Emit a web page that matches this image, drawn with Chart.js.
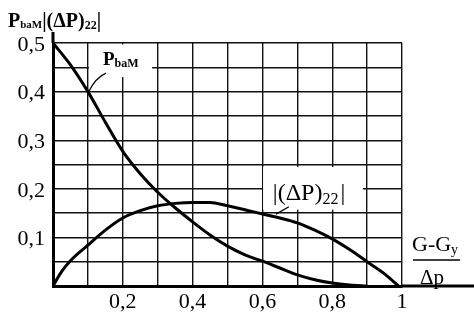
<!DOCTYPE html>
<html><head><meta charset="utf-8">
<script src="https://cdn.jsdelivr.net/npm/chart.js@4/dist/chart.umd.min.js"></script>
<style>html,body{margin:0;padding:0;background:#fff}#wrap{width:474px;height:314px}</style>
</head><body><div id="wrap"><canvas id="c" width="474" height="314"></canvas></div>
<script>
// ---- data ----
const xPbam = [0, 0.05, 0.1, 0.15, 0.2, 0.25, 0.3, 0.35, 0.4, 0.45, 0.5, 0.55, 0.6, 0.65, 0.7, 0.75, 0.8, 0.85, 0.9];
const yPbam = [0.5, 0.455, 0.40, 0.337, 0.277, 0.231, 0.193, 0.161, 0.132, 0.105, 0.082, 0.064, 0.051, 0.037, 0.023, 0.013, 0.006, 0.002, 0];
const xDp = [0, 0.025, 0.05, 0.1, 0.15, 0.2, 0.25, 0.3, 0.35, 0.4, 0.45, 0.5, 0.55, 0.6, 0.65, 0.7, 0.75, 0.8, 0.85, 0.9, 0.95, 0.99];
const yDp = [0, 0.03, 0.052, 0.084, 0.115, 0.14, 0.155, 0.165, 0.17, 0.172, 0.172, 0.165, 0.157, 0.148, 0.14, 0.13, 0.115, 0.097, 0.075, 0.05, 0.025, 0];
const xTickValues = [0.2, 0.4, 0.6, 0.8, 1];
const xTickLabels = ['0,2', '0,4', '0,6', '0,8', '1'];
const yTickValues = [0.1, 0.2, 0.3, 0.4, 0.5];
const yTickLabels = ['0,1', '0,2', '0,3', '0,4', '0,5'];

const SERIF = '"Liberation Serif", "DejaVu Serif", serif';
function pickLabel(vals, labels, v) {
  for (let i = 0; i < vals.length; i++) if (Math.abs(vals[i] - v) < 1e-6) return labels[i];
  return '';
}
function pts(xs, ys) { return xs.map((x, i) => ({ x: x, y: ys[i] })); }

function drawRich(ctx, x, y, segs) {
  ctx.textBaseline = 'alphabetic';
  ctx.textAlign = 'left';
  for (const s of segs) {
    ctx.font = s.font;
    ctx.fillText(s.t, x, y + (s.dy || 0));
    x += ctx.measureText(s.t).width + (s.gap || 0);
  }
  return x;
}

const decor = {
  id: 'decor',
  beforeDatasetsDraw(chart) {
    const ctx = chart.ctx, xs = chart.scales.x, ys = chart.scales.y;
    ctx.save();
    ctx.fillStyle = '#fff';
    let x0 = xs.getPixelForValue(0.103), x1 = xs.getPixelForValue(0.284);
    let y0 = ys.getPixelForValue(0.497), y1 = ys.getPixelForValue(0.43);
    ctx.fillRect(x0, y0, x1 - x0, y1 - y0);
    x0 = xs.getPixelForValue(0.602); x1 = xs.getPixelForValue(0.888);
    y0 = ys.getPixelForValue(0.245); y1 = ys.getPixelForValue(0.157);
    ctx.fillRect(x0, y0, x1 - x0, y1 - y0);
    ctx.restore();
  },
  afterDraw(chart) {
    const ctx = chart.ctx, xs = chart.scales.x, ys = chart.scales.y, a = chart.chartArea;
    ctx.save();
    ctx.strokeStyle = '#000';
    ctx.fillStyle = '#000';
    ctx.lineWidth = 3;
    ctx.beginPath();
    ctx.moveTo(a.left, a.top - 11); ctx.lineTo(a.left, a.top);
    ctx.moveTo(a.right, a.bottom); ctx.lineTo(chart.width, a.bottom);
    ctx.stroke();

    drawRich(ctx, 8, 27, [
      { t: 'P', font: 'bold 20px ' + SERIF },
      { t: 'baM', font: 'bold 11px ' + SERIF, dy: 1 },
      { t: '|(ΔP)', font: 'bold 20px ' + SERIF },
      { t: '22', font: 'bold 12px ' + SERIF, dy: 2 },
      { t: '|', font: 'bold 20px ' + SERIF }
    ]);

    drawRich(ctx, xs.getPixelForValue(0.143), ys.getPixelForValue(0.455), [
      { t: 'P', font: 'bold 19px ' + SERIF },
      { t: 'baM', font: 'bold 12px ' + SERIF, dy: 2 }
    ]);
    ctx.lineWidth = 1.3;
    ctx.beginPath();
    ctx.moveTo(xs.getPixelForValue(0.152), ys.getPixelForValue(0.438));
    ctx.quadraticCurveTo(xs.getPixelForValue(0.123), ys.getPixelForValue(0.43), xs.getPixelForValue(0.1), ys.getPixelForValue(0.397));
    ctx.stroke();

    drawRich(ctx, xs.getPixelForValue(0.63), ys.getPixelForValue(0.177), [
      { t: '|(ΔP)', font: '24px ' + SERIF },
      { t: '22', font: '16px ' + SERIF, dy: 4, gap: 2 },
      { t: '|', font: '24px ' + SERIF }
    ]);
    ctx.beginPath();
    ctx.moveTo(xs.getPixelForValue(0.676), ys.getPixelForValue(0.163));
    ctx.lineTo(xs.getPixelForValue(0.639), ys.getPixelForValue(0.148));
    ctx.stroke();

    const fx = a.right + 10;
    const end = drawRich(ctx, fx, a.bottom - 35, [
      { t: 'G-G', font: '22px ' + SERIF },
      { t: 'y', font: '14px ' + SERIF, dy: 3 }
    ]);
    ctx.lineWidth = 1.5;
    ctx.beginPath();
    ctx.moveTo(fx + 1, a.bottom - 26); ctx.lineTo(end + 2, a.bottom - 26);
    ctx.stroke();
    drawRich(ctx, fx + 8, a.bottom - 2, [
      { t: 'Δp', font: '21px ' + SERIF }
    ]);
    ctx.restore();
  }
};

new Chart(document.getElementById('c'), {
  type: 'scatter',
  data: {
    datasets: [
      { label: 'P_baM', data: pts(xPbam, yPbam), showLine: true, borderColor: '#000', borderWidth: 3, pointRadius: 0, cubicInterpolationMode: 'monotone', clip: 4 },
      { label: '|(ΔP)22|', data: pts(xDp, yDp), showLine: true, borderColor: '#000', borderWidth: 3, pointRadius: 0, cubicInterpolationMode: 'monotone', clip: 4 }
    ]
  },
  options: {
    responsive: false,
    animation: false,
    devicePixelRatio: 1,
    layout: { padding: { top: 43, right: 72, left: 0, bottom: 0 } },
    plugins: { legend: { display: false }, tooltip: { enabled: false }, title: { display: false } },
    scales: {
      x: {
        type: 'linear', min: 0, max: 1,
        afterFit(s) { s.height = 28; },
        grid: { color: '#111', lineWidth: 1.4, drawTicks: false },
        border: { color: '#000', width: 3 },
        ticks: {
          stepSize: 0.1, autoSkip: false, maxRotation: 0, minRotation: 0, padding: 3, color: '#000',
          font: { family: SERIF, size: 22 },
          callback: v => pickLabel(xTickValues, xTickLabels, v)
        }
      },
      y: {
        type: 'linear', min: 0, max: 0.5,
        afterFit(s) { s.width = 53; },
        grid: { color: '#111', lineWidth: 1.4, drawTicks: false },
        border: { color: '#000', width: 3 },
        ticks: {
          stepSize: 0.05, autoSkip: false, padding: 8, labelOffset: 2, color: '#000',
          font: { family: SERIF, size: 22 },
          callback: v => pickLabel(yTickValues, yTickLabels, v)
        }
      }
    }
  },
  plugins: [decor]
});
</script></body></html>
